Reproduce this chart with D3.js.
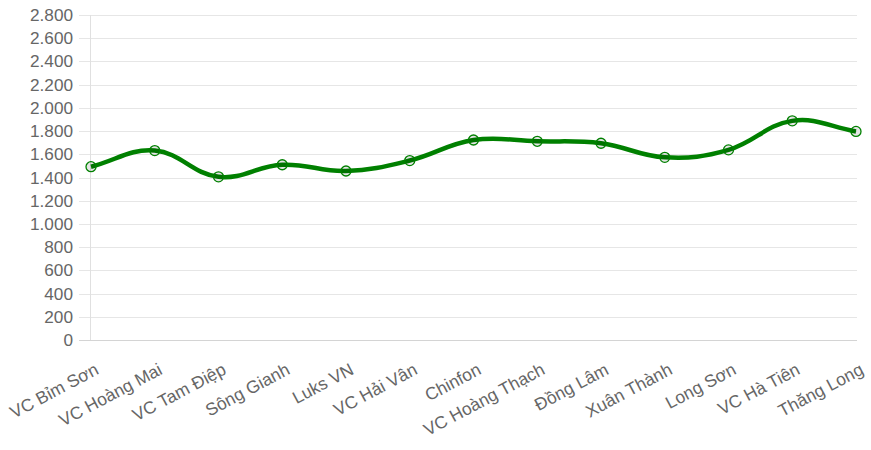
<!DOCTYPE html>
<html>
<head>
<meta charset="utf-8">
<script src="https://cdn.jsdelivr.net/npm/d3@7"></script>
<style>
  html, body { margin: 0; padding: 0; background: #fff; }
  svg { display: block; }
  text { font-family: "Liberation Sans", Arial, Helvetica, sans-serif; }
</style>
</head>
<body>
<svg id="chart" width="871" height="450"></svg>
<script>
const categories = ["VC Bỉm Sơn", "VC Hoàng Mai", "VC Tam Điệp", "Sông Gianh", "Luks VN", "VC Hải Vân", "Chinfon", "VC Hoàng Thạch", "Đồng Lâm", "Xuân Thành", "Long Sơn", "VC Hà Tiên", "Thăng Long"];
const values = [1493, 1632, 1406, 1510, 1456, 1546, 1723, 1712, 1695, 1574, 1638, 1888, 1797];
const yTicks = [0, 200, 400, 600, 800, 1000, 1200, 1400, 1600, 1800, 2000, 2200, 2400, 2600, 2800];

const svg = d3.select("#chart");
const pLeft = 90.5, pRight = 856, pTop = 15, pBottom = 340;

const x = d3.scalePoint().domain(categories).range([pLeft + 0.5, pRight]);
const y = d3.scaleLinear().domain([0, 2800]).range([pBottom, pTop]);

const fmt = v => d3.format(",")(v).replace(/,/g, ".");

// horizontal grid + y labels
const gy = svg.append("g");
gy.selectAll("line.grid").data(yTicks).join("line")
  .attr("x1", 79).attr("x2", 857)
  .attr("y1", d => Math.round(y(d)) + 0.5).attr("y2", d => Math.round(y(d)) + 0.5)
  .attr("stroke", d => d === 0 ? "#d4d4d4" : "#e6e6e6").attr("stroke-width", 1);
gy.selectAll("text").data(yTicks).join("text")
  .attr("x", 73).attr("y", d => y(d))
  .attr("text-anchor", "end").attr("dominant-baseline", "central")
  .attr("font-size", 17.2).attr("fill", "#666")
  .text(fmt);

// y axis line
svg.append("line").attr("x1", pLeft).attr("x2", pLeft).attr("y1", pTop).attr("y2", pBottom)
  .attr("stroke", "#e0e0e0").attr("stroke-width", 1);

// x labels
const rot = -28;
svg.append("g").selectAll("text").data(categories).join("text")
  .attr("transform", d => `translate(${x(d) + 6},${pBottom + 28}) rotate(${rot})`)
  .attr("text-anchor", "end").attr("dominant-baseline", "central")
  .attr("font-size", 17.5).attr("fill", "#666")
  .text(d => d);

// Chart.js-style bezier (tension 0.4)
const pts = categories.map((c, i) => [x(c), y(values[i])]);
function chartjsPath(p, t) {
  const path = d3.path();
  const cps = p.map((cur, i) => {
    const prev = p[i - 1] || cur, next = p[i + 1] || cur;
    const d01 = Math.hypot(cur[0] - prev[0], cur[1] - prev[1]);
    const d12 = Math.hypot(next[0] - cur[0], next[1] - cur[1]);
    let s01 = d01 / (d01 + d12), s12 = d12 / (d01 + d12);
    if (!isFinite(s01)) s01 = 0; if (!isFinite(s12)) s12 = 0;
    const fa = t * s01, fb = t * s12;
    return {
      prevCp: [cur[0] - fa * (next[0] - prev[0]), cur[1] - fa * (next[1] - prev[1])],
      nextCp: [cur[0] + fb * (next[0] - prev[0]), cur[1] + fb * (next[1] - prev[1])]
    };
  });
  path.moveTo(p[0][0], p[0][1]);
  for (let i = 1; i < p.length; i++) {
    const a = cps[i - 1].nextCp, b = cps[i].prevCp;
    path.bezierCurveTo(a[0], a[1], b[0], b[1], p[i][0], p[i][1]);
  }
  return path.toString();
}

svg.append("path").attr("d", chartjsPath(pts, 0.4))
  .attr("fill", "none").attr("stroke", "#008000").attr("stroke-width", 4.5)
  .attr("stroke-linejoin", "round");

svg.append("g").selectAll("circle").data(pts).join("circle")
  .attr("cx", d => d[0]).attr("cy", d => d[1]).attr("r", 5)
  .attr("fill", "rgba(0,0,0,0.1)").attr("stroke", "#008000").attr("stroke-width", 1.3);
</script>
</body>
</html>
